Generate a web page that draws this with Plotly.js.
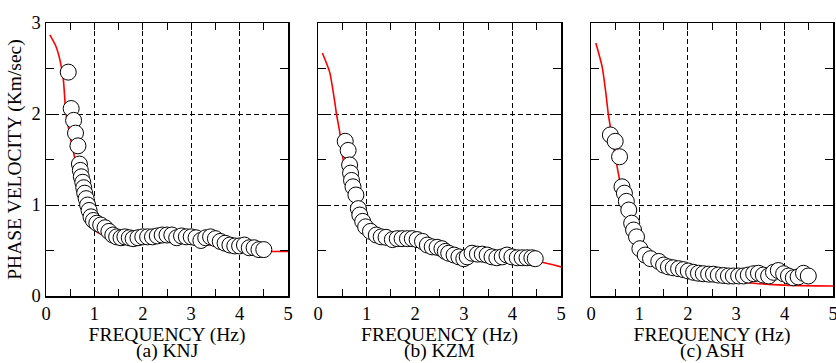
<!DOCTYPE html>
<html>
<head>
<meta charset="utf-8">
<script src="https://cdn.plot.ly/plotly-3.0.1.min.js"></script>
<style>html,body{margin:0;padding:0;background:#fff;}#chart{width:836px;height:363px;}</style>
</head>
<body>
<div id="chart"></div>
<script>
// ---- Data ----
// (a) KNJ observed
const knjFreq = [0.46,0.52,0.57,0.61,0.66,0.69,0.71,0.73,0.76,0.78,0.80,0.83,0.86,0.89,0.93,0.98,1.05,1.13,1.22,1.30,1.38,1.46,1.55,1.63,1.72,1.80,1.90,2.00,2.10,2.20,2.30,2.40,2.50,2.60,2.70,2.80,2.90,3.00,3.10,3.20,3.30,3.40,3.50,3.60,3.70,3.80,3.90,4.00,4.10,4.20,4.30,4.40,4.50];
const knjVel  = [2.46,2.06,1.93,1.79,1.65,1.45,1.38,1.31,1.25,1.19,1.13,1.07,1.00,0.94,0.87,0.83,0.80,0.78,0.75,0.71,0.67,0.65,0.64,0.65,0.64,0.63,0.64,0.65,0.65,0.65,0.66,0.67,0.67,0.67,0.64,0.66,0.65,0.65,0.64,0.61,0.64,0.65,0.63,0.60,0.58,0.56,0.55,0.55,0.56,0.53,0.53,0.51,0.51];
// (a) KNJ model curve
const knjModelFreq = [0.08,0.20,0.29,0.36,0.41,0.50,0.58,0.70,0.80,0.90,0.98,1.10,1.30,1.50,2.00,2.50,3.00,3.40,4.00,4.50,4.60,5.00];
const knjModelVel  = [2.87,2.75,2.59,2.37,2.02,1.75,1.55,1.22,0.99,0.82,0.74,0.69,0.65,0.63,0.62,0.61,0.59,0.56,0.53,0.50,0.49,0.49];

// (b) KZM observed
const kzmFreq = [0.56,0.62,0.65,0.67,0.69,0.72,0.78,0.83,0.86,0.92,0.98,1.08,1.20,1.30,1.40,1.53,1.63,1.73,1.84,1.94,2.04,2.15,2.25,2.35,2.45,2.55,2.62,2.69,2.80,2.90,3.00,3.07,3.17,3.28,3.38,3.48,3.58,3.68,3.79,3.89,3.99,4.10,4.20,4.30,4.40,4.47];
const kzmVel  = [1.70,1.60,1.44,1.35,1.27,1.20,1.11,0.96,0.89,0.82,0.76,0.71,0.67,0.65,0.645,0.62,0.63,0.63,0.63,0.63,0.62,0.60,0.56,0.54,0.535,0.52,0.49,0.47,0.45,0.43,0.41,0.43,0.47,0.46,0.46,0.45,0.43,0.42,0.43,0.45,0.43,0.42,0.42,0.42,0.42,0.41];
// (b) KZM model curve
const kzmModelFreq = [0.09,0.24,0.34,0.38,0.45,0.52,0.60,0.70,0.80,0.90,1.00,1.20,1.50,2.00,2.50,3.00,3.50,4.00,4.60,5.00];
const kzmModelVel  = [2.67,2.46,2.15,2.00,1.79,1.49,1.28,1.07,0.90,0.78,0.71,0.66,0.62,0.60,0.53,0.45,0.43,0.41,0.37,0.32];

// (c) ASH observed
const ashFreq = [0.40,0.50,0.59,0.64,0.69,0.73,0.78,0.84,0.88,0.94,1.01,1.12,1.23,1.40,1.50,1.60,1.70,1.81,1.91,2.01,2.12,2.22,2.32,2.43,2.53,2.63,2.74,2.84,2.94,3.05,3.15,3.25,3.36,3.46,3.56,3.67,3.77,3.87,3.98,4.08,4.18,4.28,4.39,4.49];
const ashVel  = [1.77,1.70,1.53,1.20,1.13,1.04,0.945,0.80,0.725,0.65,0.52,0.45,0.41,0.38,0.34,0.32,0.31,0.30,0.29,0.275,0.26,0.25,0.245,0.24,0.24,0.23,0.225,0.22,0.22,0.22,0.22,0.23,0.245,0.25,0.23,0.22,0.26,0.28,0.245,0.22,0.20,0.21,0.25,0.22];
// (c) ASH model curve
const ashModelFreq = [0.10,0.23,0.30,0.36,0.45,0.54,0.62,0.70,0.81,0.90,1.00,1.20,1.50,2.00,2.50,3.00,3.36,4.00,5.00];
const ashModelVel  = [2.78,2.52,2.26,1.99,1.70,1.42,1.20,1.02,0.84,0.68,0.52,0.40,0.33,0.26,0.20,0.16,0.14,0.12,0.11];

const xTickVals = [0,1,2,3,4,5];
const yTickVals = [0,1,2,3];
const xTitle = 'FREQUENCY (Hz)';
const yTitle = 'PHASE VELOCITY (Km/sec)';
const captions = ['(a) KNJ','(b) KZM','(c) ASH'];

// ---- Traces ----
const panels = [
  [knjModelFreq, knjModelVel, knjFreq, knjVel],
  [kzmModelFreq, kzmModelVel, kzmFreq, kzmVel],
  [ashModelFreq, ashModelVel, ashFreq, ashVel]
];
const traces = [];
panels.forEach((p, i) => {
  const xa = i === 0 ? 'x' : 'x' + (i + 1);
  const ya = i === 0 ? 'y' : 'y' + (i + 1);
  traces.push({x: p[0], y: p[1], xaxis: xa, yaxis: ya, type: 'scatter', mode: 'lines',
    line: {color: '#ff0000', width: 1.6, shape: 'spline', smoothing: 0.6}, hoverinfo: 'skip'});
  traces.push({x: p[2], y: p[3], xaxis: xa, yaxis: ya, type: 'scatter', mode: 'markers',
    marker: {symbol: 'circle', size: 16, color: '#ffffff', line: {color: '#000000', width: 1}}});
});

const fam = 'Liberation Serif';
const tickFont = {family: fam, size: 18.5, color: '#000'};
const titleFont = {family: fam, size: 19.5, color: '#000'};
const W = 836, ml = 46, mr = 3;
const pw = W - ml - mr;
const doms = [[46, 288], [318, 561], [591, 833]].map(d => [(d[0] - ml) / pw, (d[1] - ml) / pw]);

function xAxis(i) {
  return {
    domain: doms[i], range: [0, 5], anchor: i === 0 ? 'y' : 'y' + (i + 1),
    tickmode: 'array', tickvals: xTickVals, ticks: 'inside', ticklen: 7, tickwidth: 1, tickcolor: '#000',
    minor: {dtick: 0.5, tick0: 0, ticks: 'inside', ticklen: 7, tickwidth: 1, tickcolor: '#000', showgrid: false},
    showgrid: true, gridcolor: '#000', gridwidth: 1, griddash: '5px,3px',
    showline: true, linecolor: '#000', linewidth: 1.5, mirror: 'ticks', zeroline: false,
    ticklabeloverflow: 'allow',
    tickfont: tickFont, title: {text: xTitle, font: titleFont, standoff: 4}, fixedrange: true
  };
}
function yAxis(i) {
  return {
    domain: [0, 1], range: [0, 3], anchor: i === 0 ? 'x' : 'x' + (i + 1),
    tickmode: 'array', tickvals: yTickVals, ticks: 'inside', ticklen: 8, tickwidth: 1, tickcolor: '#000',
    minor: {dtick: 0.5, tick0: 0, ticks: 'inside', ticklen: 8, tickwidth: 1, tickcolor: '#000', showgrid: false},
    showgrid: true, gridcolor: '#000', gridwidth: 1, griddash: '5px,3px',
    showline: true, linecolor: '#000', linewidth: 1.5, mirror: 'ticks', zeroline: false,
    showticklabels: i === 0, tickfont: tickFont,
    title: i === 0 ? {text: yTitle, font: titleFont, standoff: 4} : {text: ''}, fixedrange: true
  };
}

const layout = {
  width: 836, height: 363,
  margin: {l: ml, r: mr, t: 23, b: 67},
  paper_bgcolor: '#fff', plot_bgcolor: '#fff',
  showlegend: false, font: tickFont,
  xaxis: xAxis(0), xaxis2: xAxis(1), xaxis3: xAxis(2),
  yaxis: yAxis(0), yaxis2: yAxis(1), yaxis3: yAxis(2),
  annotations: captions.map((c, i) => ({
    text: c, xref: 'paper', yref: 'paper', x: (doms[i][0] + doms[i][1]) / 2, y: -(363 - 296) / 273,
    xanchor: 'center', yanchor: 'bottom', showarrow: false, font: titleFont, borderpad: 0
  }))
};

Plotly.newPlot('chart', traces, layout, {displayModeBar: false, staticPlot: true});
</script>
</body>
</html>
